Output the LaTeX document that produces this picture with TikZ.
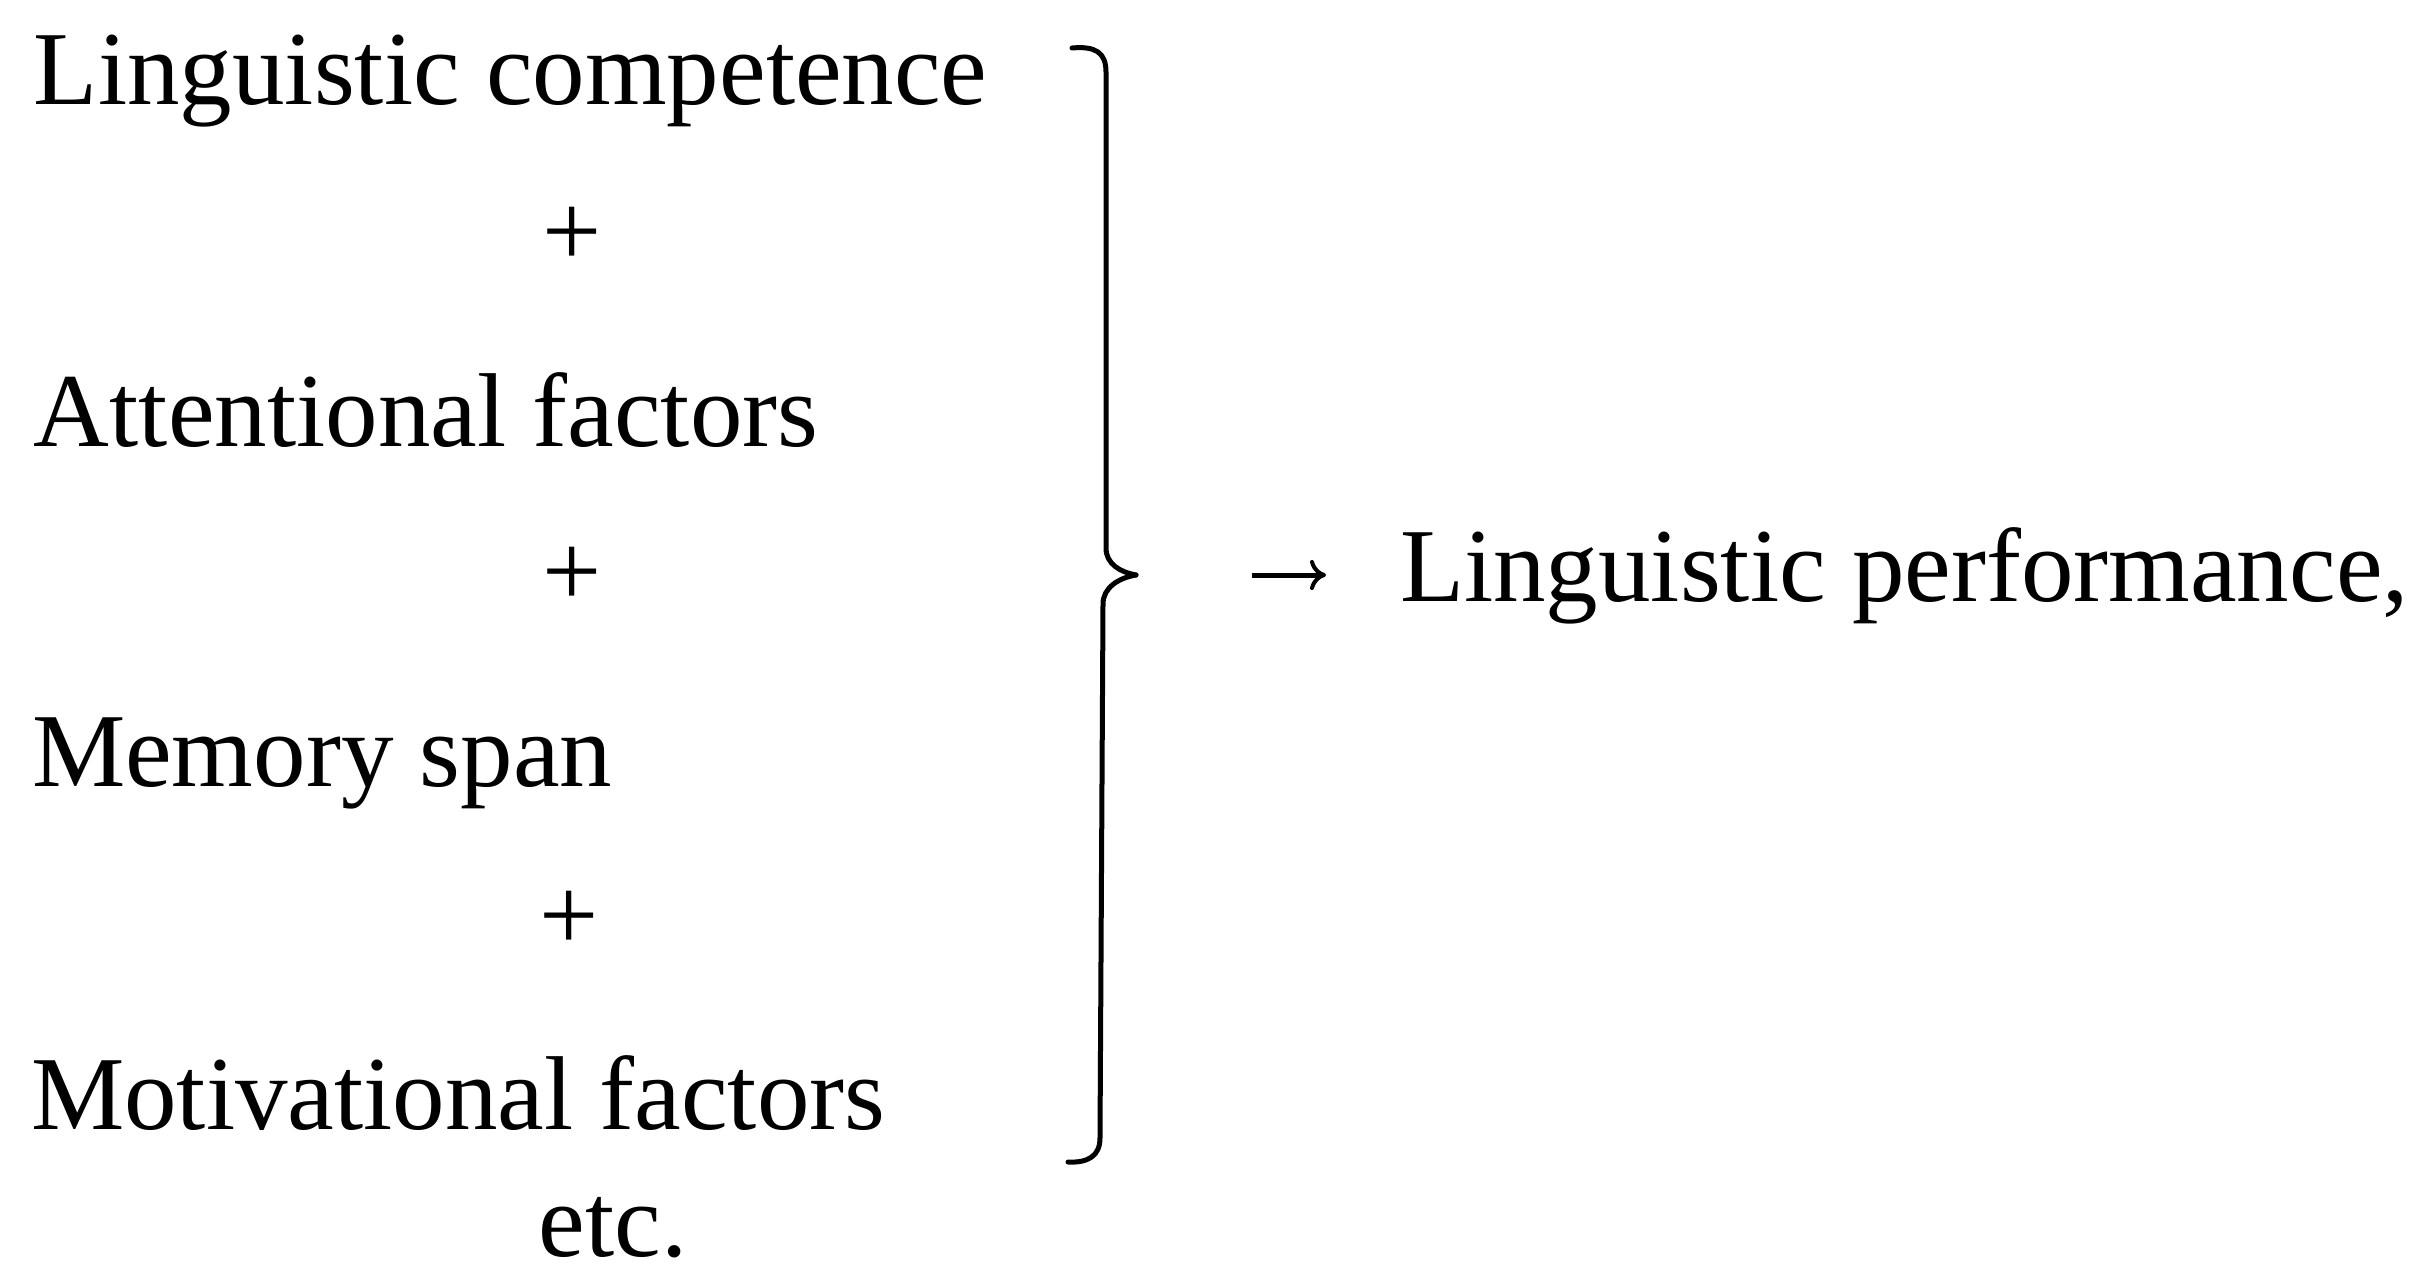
\documentclass[tikz,border=0pt]{standalone}
\usepackage{fontspec}
\setmainfont{Liberation Serif}
\usetikzlibrary{arrows.meta}
\tikzset{
  txt/.style={inner sep=0pt, outer sep=0pt, font=\fontsize{105}{120}\selectfont},
  bracestroke/.style={line width=5pt, line cap=round, line join=round},
}
\begin{document}
\begin{tikzpicture}[x=1pt,y=-1pt]
\useasboundingbox (0,0) rectangle (2426,1276);
\fill[white] (0,0) rectangle (2426,1276);
\node[txt, anchor=base west] (comp) at (34,105) {Linguistic competence};
\node[txt, anchor=base] (p1) at (572,266) {+};
\node[txt, anchor=base west] (att) at (34,446) {Attentional factors};
\node[txt, anchor=base] (p2) at (572,606) {+};
\node[txt, anchor=base west] (mem) at (32,786) {Memory span};
\node[txt, anchor=base] (p3) at (569,950) {+};
\node[txt, anchor=base west] (mot) at (31,1129) {Motivational factors};
\node[txt, anchor=base] (etc) at (613,1256) {etc.};
\node[txt, anchor=base west] (perf) at (1400,601) {Linguistic performance,};
% brace
\coordinate (btop) at (1072,48);
\coordinate (btip) at (1136,575);
\coordinate (bbot) at (1068,1162);
\draw[bracestroke] (btop) .. controls (1095,46) and (1106,52) .. (1106,72)
  -- (1106,548) .. controls (1106,564) and (1120,572) .. (btip);
\draw[bracestroke] (btip) .. controls (1118,578) and (1103,588) .. (1103,604)
  -- (1100,1138) .. controls (1100,1156) and (1088,1163) .. (bbot);
% arrow
\coordinate (as) at (1252,575);
\coordinate (ae) at (1326,575);
\draw[line width=5pt, -{To[length=16pt,width=30pt,line width=4pt]}] (as) -- (ae);
\end{tikzpicture}
\end{document}
